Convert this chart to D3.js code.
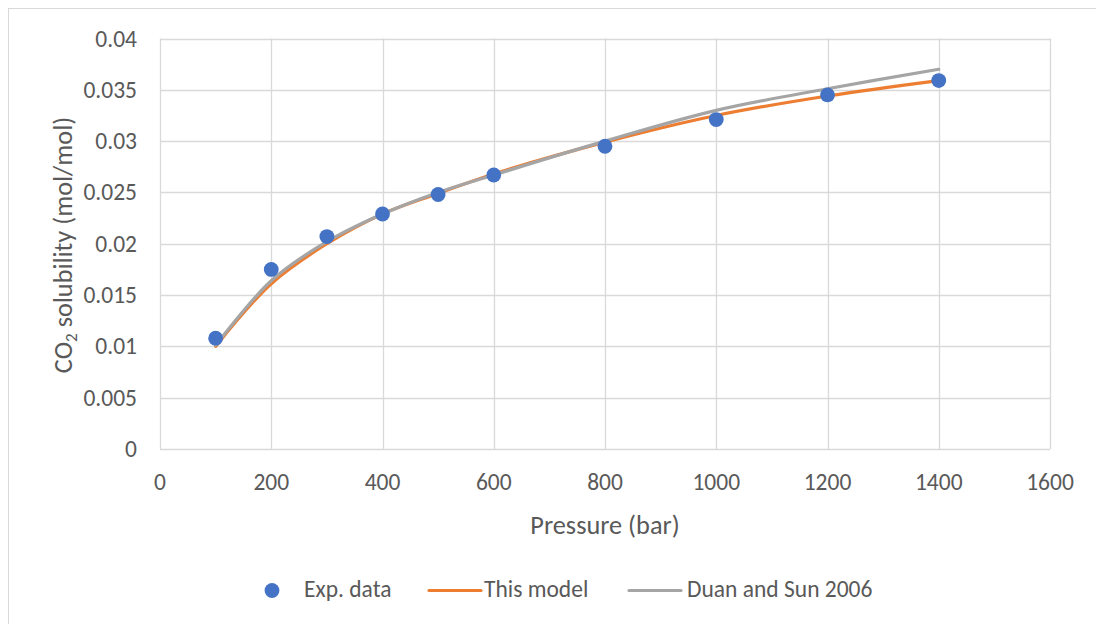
<!DOCTYPE html>
<html>
<head>
<meta charset="utf-8">
<script src="https://cdn.jsdelivr.net/npm/d3@7"></script>
<style>
  body { margin: 0; background: #fff; }
  svg text { font-family: Carlito, Calibri, Lato, sans-serif; fill: #595959; }
</style>
</head>
<body>
<div id="chart"></div>
<script>
// pressure (bar)
const pressures = [100, 200, 300, 400, 500, 600, 800, 1000, 1200, 1400];
// CO2 solubility (mol/mol)
const expData   = [0.0108, 0.0175, 0.0207, 0.0229, 0.0248, 0.0267, 0.0295, 0.0321, 0.0345, 0.0359];
const thisModel = [0.0100, 0.0161, 0.0200, 0.0229, 0.0249, 0.0268, 0.0299, 0.0325, 0.0344, 0.0359];
const duanSun   = [0.0101, 0.0164, 0.0202, 0.0229, 0.0250, 0.0267, 0.0300, 0.0330, 0.0351, 0.0370];
const xTicks = [0, 200, 400, 600, 800, 1000, 1200, 1400, 1600];
const yTicks = [0, 0.005, 0.01, 0.015, 0.02, 0.025, 0.03, 0.035, 0.04];
const seriesNames = ["Exp. data", "This model", "Duan and Sun 2006"];
const seriesColors = ["#4472C4", "#ED7D31", "#A5A5A5"];

const W = 1096, H = 624;
const svg = d3.select("#chart").append("svg").attr("width", W).attr("height", H);

// chart border
svg.append("rect").attr("x", 8.5).attr("y", 8.5).attr("width", W).attr("height", H)
    .attr("fill", "#fff").attr("stroke", "#d9d9d9");

const x = d3.scaleLinear().domain([0, 1600]).range([160, 1050]);
const y = d3.scaleLinear().domain([0, 0.04]).range([449, 38.5]);

// gridlines
svg.append("g").selectAll("line").data(yTicks).join("line")
    .attr("x1", x(0)).attr("x2", x(1600))
    .attr("y1", d => Math.round(y(d)) + 0.5).attr("y2", d => Math.round(y(d)) + 0.5)
    .attr("stroke", "#d9d9d9").attr("stroke-width", 1.3);
svg.append("g").selectAll("line").data(xTicks).join("line")
    .attr("y1", y(0)).attr("y2", y(0.04))
    .attr("x1", d => Math.round(x(d)) + 0.5).attr("x2", d => Math.round(x(d)) + 0.5)
    .attr("stroke", "#d9d9d9").attr("stroke-width", 1.3);

// tick labels
svg.append("g").selectAll("text").data(yTicks).join("text")
    .attr("x", 137).attr("y", d => y(d) + 8)
    .attr("text-anchor", "end").attr("font-size", 23.5)
    .text(d => d === 0 ? "0" : String(+d.toFixed(3)));
svg.append("g").selectAll("text").data(xTicks).join("text")
    .attr("x", d => x(d)).attr("y", 490)
    .attr("text-anchor", "middle").attr("font-size", 23.5)
    .text(d => d);

// axis titles
svg.append("text").attr("x", 605).attr("y", 534).attr("text-anchor", "middle")
    .attr("font-size", 26.3).text("Pressure (bar)");
const yt = svg.append("text").attr("transform", "translate(72,245) rotate(-90)")
    .attr("text-anchor", "middle").attr("font-size", 26.3);
yt.append("tspan").text("CO");
yt.append("tspan").attr("font-size", 17).attr("dy", 5).text("2");
yt.append("tspan").attr("dy", -5).text(" solubility (mol/mol)");

// lines
const line = d3.line().x((d, i) => x(pressures[i])).y(d => y(d)).curve(d3.curveCatmullRom.alpha(0.5));
svg.append("path").attr("d", line(thisModel)).attr("fill", "none")
    .attr("stroke", seriesColors[1]).attr("stroke-width", 3.2).attr("stroke-linecap", "round");
svg.append("path").attr("d", line(duanSun)).attr("fill", "none")
    .attr("stroke", seriesColors[2]).attr("stroke-width", 3.2).attr("stroke-linecap", "round");

// points
svg.append("g").selectAll("circle").data(expData).join("circle")
    .attr("cx", (d, i) => x(pressures[i])).attr("cy", d => y(d)).attr("r", 7.4)
    .attr("fill", seriesColors[0]);

// legend
const lg = svg.append("g");
lg.append("circle").attr("cx", 272).attr("cy", 590.5).attr("r", 7.4).attr("fill", seriesColors[0]);
lg.append("text").attr("x", 304).attr("y", 597).attr("font-size", 23.5).text(seriesNames[0]);
lg.append("line").attr("x1", 429).attr("x2", 481).attr("y1", 590.5).attr("y2", 590.5)
    .attr("stroke", seriesColors[1]).attr("stroke-width", 3.2).attr("stroke-linecap", "round");
lg.append("text").attr("x", 484).attr("y", 597).attr("font-size", 23.5).text(seriesNames[1]);
lg.append("line").attr("x1", 629).attr("x2", 681).attr("y1", 590.5).attr("y2", 590.5)
    .attr("stroke", seriesColors[2]).attr("stroke-width", 3.2).attr("stroke-linecap", "round");
lg.append("text").attr("x", 687).attr("y", 597).attr("font-size", 23.5).text(seriesNames[2]);
</script>
</body>
</html>
